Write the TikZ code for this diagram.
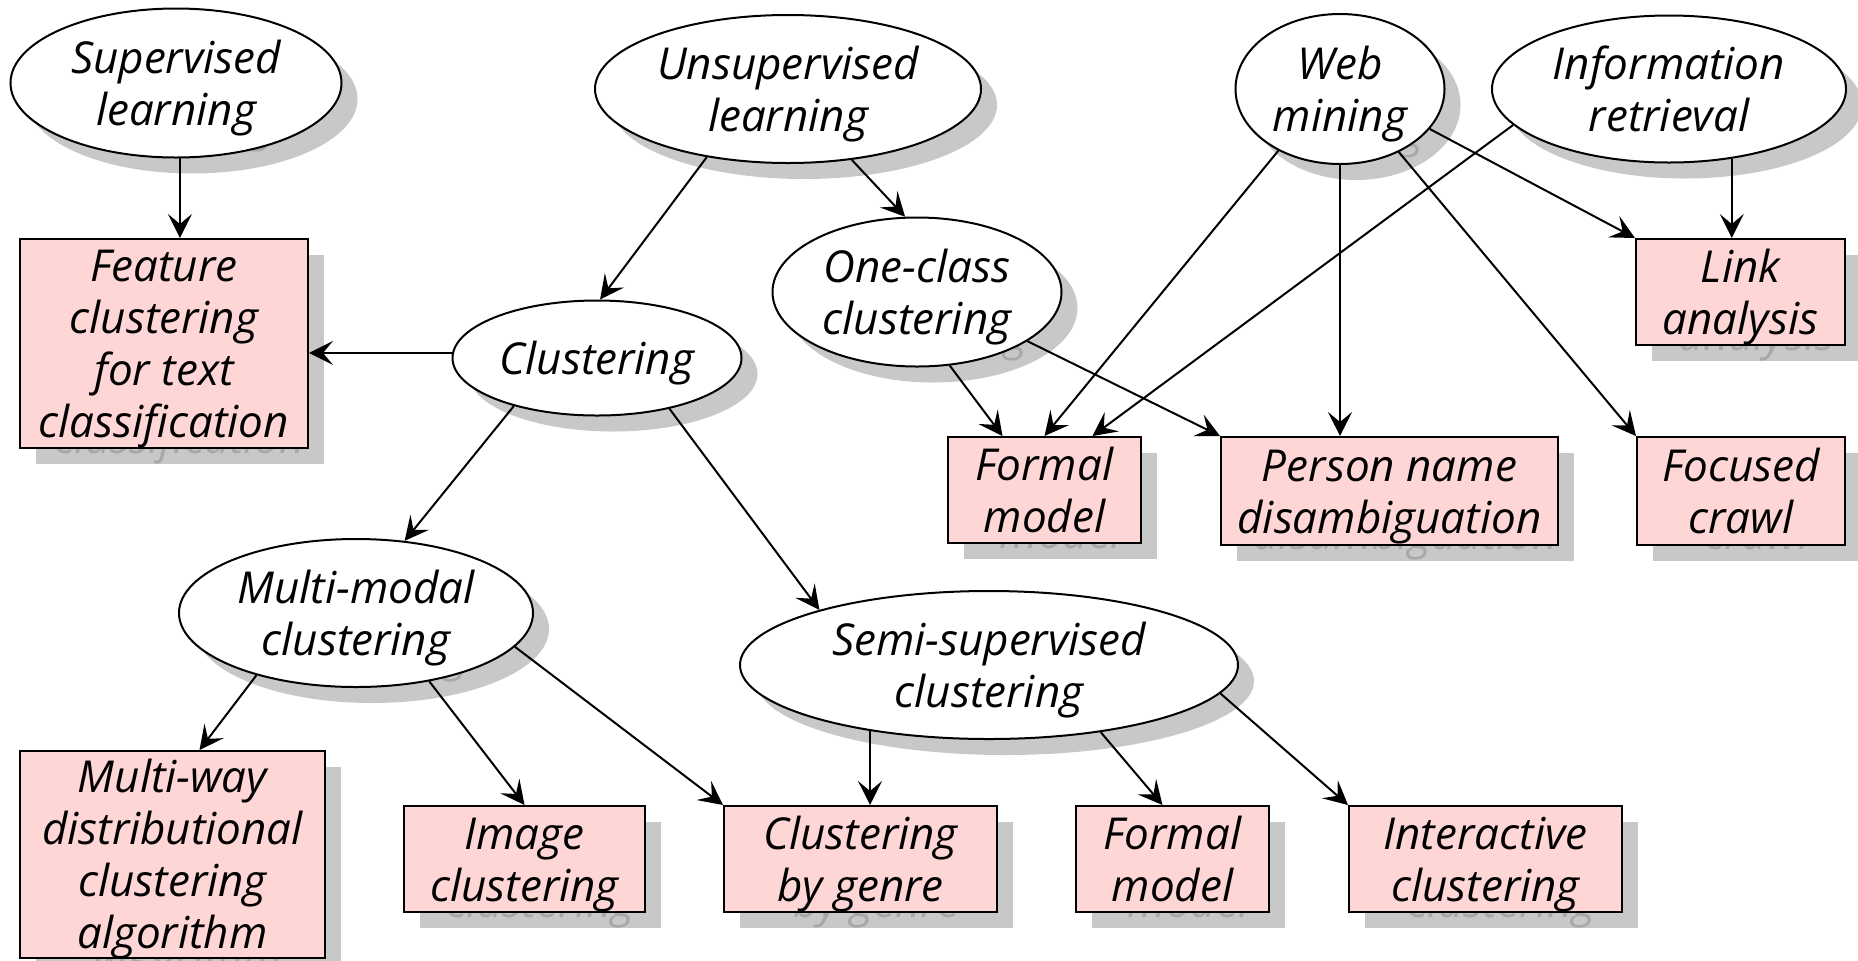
\documentclass[tikz,border=0pt]{standalone}
\usepackage{fontspec}
\setmainfont{Open Sans}
\usetikzlibrary{arrows.meta,shapes.geometric,calc}
\pgfdeclarelayer{bottom}
\pgfdeclarelayer{background}
\pgfsetlayers{bottom,background,main}
\definecolor{boxpink}{HTML}{FFD6D6}
\definecolor{shadowgray}{HTML}{C8C8C8}
\definecolor{shadowtext}{HTML}{A8A8A8}
\newcommand\tx[1]{\raisebox{0pt}[\height][\dimexpr\depth-6pt\relax]{\begin{tabular}{@{}c@{}}#1\end{tabular}}}
\tikzset{
  lbl/.style={font=\fontsize{22}{26}\selectfont\itshape, inner sep=0pt},
  ell/.style={lbl, ellipse, draw, line width=1pt, fill=white},
  rbox/.style={lbl, rectangle, draw, line width=1pt, fill=boxpink},
  shd/.style={fill=shadowgray, text=shadowtext, draw=none},
  arr/.style={-{Stealth[length=12pt,width=12pt,inset=5pt]}, line width=1pt},
}
\newcommand\ellN[6]{%
  \begin{pgfonlayer}{background}
  \node[ell, shd, minimum width=#4*0.5pt, minimum height=#5*0.5pt] (#1s) at (#2+16,#3+16) {\tx{#6}};
  \end{pgfonlayer}
  \node[ell, minimum width=#4*0.5pt, minimum height=#5*0.5pt] (#1) at (#2,#3) {\tx{#6}};}
\newcommand\boxN[6]{%
  \begin{pgfonlayer}{background}
  \node[rbox, shd, minimum width=#4*0.5pt, minimum height=#5*0.5pt] (#1s) at (#2+16,#3+16) {\tx{#6}};
  \end{pgfonlayer}
  \node[rbox, minimum width=#4*0.5pt, minimum height=#5*0.5pt] (#1) at (#2,#3) {\tx{#6}};}
\begin{document}
\begin{tikzpicture}[x=0.5pt,y=-0.5pt]
\begin{pgfonlayer}{bottom}
\fill[white] (0,0) rectangle (1858,960);
\end{pgfonlayer}
\useasboundingbox (0,0) rectangle (1858,960);
% ellipses
\ellN{sup}{176}{83}{331}{149}{Supervised\\learning}
\ellN{unsup}{788}{89}{386}{148}{Unsupervised\\learning}
\ellN{web}{1340}{89}{209}{150}{Web\\mining}
\ellN{info}{1669}{89}{354}{147}{Information\\retrieval}
\ellN{onec}{917}{292}{289}{149}{One-class\\clustering}
\ellN{clust}{597}{358}{289}{115}{Clustering}
\ellN{multi}{356}{613}{354}{148}{Multi-modal\\clustering}
\ellN{semi}{989}{665}{498}{148}{Semi-supervised\\clustering}
% boxes
\boxN{feat}{164}{343.5}{288}{209}{Feature\\clustering\\for text\\classification}
\boxN{link}{1740.5}{292}{209}{106}{Link\\analysis}
\boxN{fmA}{1044.5}{490}{193}{106}{Formal\\model}
\boxN{person}{1389.5}{491}{337}{108}{Person name\\disambiguation}
\boxN{focus}{1741}{491}{208}{108}{Focused\\crawl}
\boxN{mway}{172.5}{854.5}{305}{207}{Multi-way\\distributional\\clustering\\algorithm}
\boxN{image}{524.5}{859}{241}{106}{Image\\clustering}
\boxN{genre}{860.5}{859}{273}{106}{Clustering\\by genre}
\boxN{fmB}{1172.5}{859}{193}{106}{Formal\\model}
\boxN{inter}{1485.5}{859}{273}{106}{Interactive\\clustering}
% connectors
\draw[arr] (sup.-87) -- (feat.north -| sup.-87);
\draw[arr] (unsup.-140) -- (clust.87);
\draw[arr] (unsup.-48) -- (onec.99);
\draw[arr] (clust.178) -- (feat.east |- clust.178);
\draw[arr] (clust.-150) -- (multi.56);
\draw[arr] (clust.-35) -- (semi.162);
\draw[arr] (onec.-66) -- ($(fmA.north)+(-42,0)$);
\draw[arr] (onec.-24) -- (person.north west);
\draw[arr] (web.-135) -- (fmA.north);
\draw[arr] (info.-167) -- ($(fmA.north)+(48,0)$);
\draw[arr] (web.south) -- (person.north -| web.south);
\draw[arr] (web.-24) -- (link.north west);
\draw[arr] (web.-47) -- (focus.north west);
\draw[arr] (info.-48) -- (link.north -| info.-48);
\draw[arr] (multi.-148) -- ($(mway.north)+(27,0)$);
\draw[arr] (multi.-43) -- (image.north);
\draw[arr] (multi.-12) -- (genre.north west);
\draw[arr] (semi.-151) -- (genre.north -| semi.-151);
\draw[arr] (semi.-31) -- ($(fmB.north)+(-10,0)$);
\draw[arr] (semi.-7) -- (inter.north west);
\end{tikzpicture}
\end{document}
